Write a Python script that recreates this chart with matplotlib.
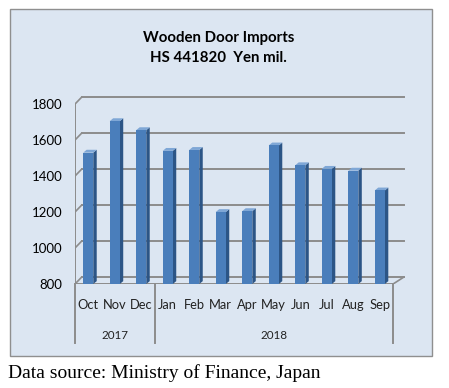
import matplotlib.pyplot as plt
import matplotlib.transforms as mtransforms
from matplotlib.patches import Rectangle, Polygon

months = ["Oct", "Nov", "Dec", "Jan", "Feb", "Mar", "Apr", "May", "Jun", "Jul", "Aug", "Sep"]
years = ["2017", "2018"]
year_counts = [3, 9]
values = [1530, 1705, 1655, 1540, 1545, 1200, 1205, 1570, 1460, 1440, 1430, 1320]
yticks = [800, 1000, 1200, 1400, 1600, 1800]

front = "#4A7EBB"
side = "#2C5586"
top = "#7FA7D6"
grid = "#8C8C8C"
bg = "#DCE6F2"

fig = plt.figure(figsize=(4.49, 3.88), dpi=100)

# chart box
fig.patches.append(Rectangle((0.0223, 0.0825), 0.94, 0.894, transform=fig.transFigure,
                             facecolor=bg, edgecolor="#8F8F8F", lw=1, zorder=-10))

ax = fig.add_axes([0.167, 0.268, 0.735, 0.487])
ax.set_facecolor("none")
for s in ax.spines.values():
    s.set_visible(False)

n = len(values)
dx, dy = 0.25, 38      # back wall offset
bw, bdx, bdy = 0.38, 0.13, 16  # bar width and depth

# back wall gridlines and side slants
for v in yticks:
    ax.plot([-0.5 + dx, n - 0.5 + dx * 1.6], [v + dy, v + dy], color=grid, lw=1.4, zorder=1)
    ax.plot([-0.5, -0.5 + dx], [v, v + dy], color=grid, lw=1.2, zorder=1)
ax.plot([-0.5, -0.5], [800, 1800], color=grid, lw=1.4, zorder=1)
ax.plot([-0.5, n - 0.5], [800, 800], color=grid, lw=1.4, zorder=1)
ax.plot([n - 0.5, n - 0.5 + dx * 1.6], [800, 800 + dy], color=grid, lw=1.2, zorder=1)

# 3d-ish bars
for i, v in enumerate(values):
    x0, x1 = i - bw / 2, i + bw / 2
    ax.add_patch(Polygon([(x1, 800), (x1 + bdx, 800 + bdy), (x1 + bdx, v + bdy), (x1, v)],
                         closed=True, facecolor=side, edgecolor="none", zorder=3))
    ax.add_patch(Polygon([(x0, v), (x0 + bdx, v + bdy), (x1 + bdx, v + bdy), (x1, v)],
                         closed=True, facecolor=top, edgecolor="none", zorder=3))
    ax.bar(i, v - 800, bottom=800, width=bw, color=front, zorder=4)

ax.set_xlim(-0.5, n - 0.5 + 0.45)
ax.set_ylim(800, 1850)
ax.set_yticks(yticks)
ax.set_yticklabels([str(t) for t in yticks], fontsize=9.5, family="Lato")
ax.tick_params(axis="y", length=0, pad=9)
ax.set_xticks([])

# category axis labels
trans = mtransforms.blended_transform_factory(ax.transData, ax.transAxes)
for i, m in enumerate(months):
    ax.text(i, -0.113, m, transform=trans, ha="center", va="center",
            fontsize=9.3, family="Lato", color="#222222")
start = 0
edges = [-0.5]
for yr, c in zip(years, year_counts):
    ax.text(start + (c - 1) / 2, -0.27, yr, transform=trans, ha="center", va="center",
            fontsize=8.4, family="Lato", color="#222222")
    start += c
    edges.append(start - 0.5)
for e in edges:
    ax.plot([e, e], [0, -0.313], transform=trans, color=grid, lw=1.4, clip_on=False)

fig.text(0.486, 0.902, "Wooden Door Imports", ha="center", va="center",
         fontsize=10.8, fontweight="bold", family="Lato")
fig.text(0.486, 0.85, "HS 441820  Yen mil.", ha="center", va="center",
         fontsize=10.8, fontweight="bold", family="Lato")
fig.text(0.018, 0.039, "Data source: Ministry of Finance, Japan", ha="left", va="center",
         fontsize=14, family="Liberation Serif")

fig.savefig("out.png", dpi=100)
